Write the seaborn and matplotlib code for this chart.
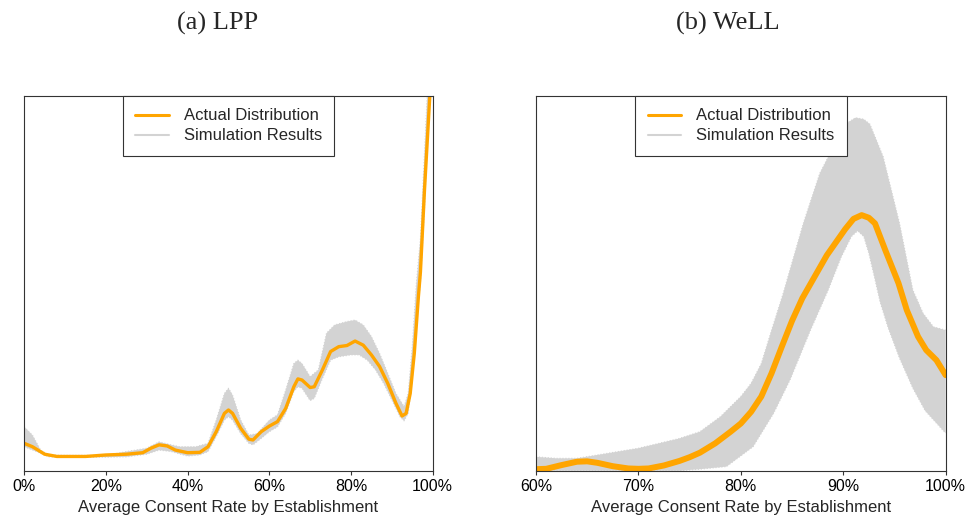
import numpy as np
import pandas as pd
import matplotlib
matplotlib.use("Agg")
import matplotlib.pyplot as plt
from matplotlib.lines import Line2D
import seaborn as sns

# ---------------- data (density in arbitrary units) -------------
# (a) LPP
lpp_x = [0, 2, 5, 8, 15, 20, 25, 29, 31, 33, 35, 37, 40, 43, 45, 47, 49, 50, 51, 53,
         55, 56, 58, 60, 62, 64, 66, 67, 68, 70, 71, 73, 75, 77, 79, 81, 83, 85, 87,
         89, 91, 92.5, 93.5, 94.5, 95.5, 96.5, 97, 98, 99.3, 100]
lpp_y = [.073, .064, .044, .038, .038, .042, .044, .048, .060, .069, .066, .055, .048,
         .049, .064, .104, .153, .162, .153, .113, .084, .082, .104, .119, .131, .166,
         .224, .245, .242, .222, .224, .269, .318, .331, .334, .346, .335, .309, .278,
         .233, .180, .146, .153, .206, .313, .464, .53, .75, 1.0, 1.12]

lpp_up_x = [0, 2, 4, 6, 10, 20, 25, 30, 33, 36, 38, 42, 45, 47, 49, 50, 51, 53, 55, 57,
            60, 62, 64, 66, 67, 68, 70, 72, 74, 76, 79, 81, 83, 85, 87, 89, 91, 93, 94,
            95, 96, 97, 98, 99, 100]
lpp_up = [.117, .095, .055, .042, .041, .041, .051, .060, .077, .069, .064, .064, .073,
          .135, .206, .220, .202, .135, .095, .099, .135, .149, .215, .286, .295, .286,
          .251, .269, .367, .389, .398, .402, .389, .358, .313, .260, .206, .171, .206,
          .331, .50, .62, .85, 1.08, 1.2]

lpp_lo_x = [0, 3, 6, 10, 20, 25, 30, 33, 36, 40, 43, 45, 47, 49, 50, 51, 53, 55, 56, 58,
            60, 62, 64, 66, 67, 68, 70, 71, 73, 75, 77, 80, 82, 84, 86, 88, 90, 92, 93,
            94, 95, 96, 97, 98, 99, 100]
lpp_lo = [.064, .051, .037, .036, .036, .037, .044, .055, .051, .039, .042, .051, .091,
          .135, .144, .135, .099, .073, .069, .086, .104, .117, .153, .211, .224, .220,
          .187, .193, .246, .295, .304, .309, .309, .295, .269, .233, .189, .144, .133,
          .153, .242, .402, .50, .70, .95, 1.05]

# (b) WeLL
well_x = [60, 61, 62.5, 64, 65, 66, 67.5, 69, 70, 71, 72.5, 74, 75, 76, 77.5, 79, 80, 81,
          82, 83, 84, 85, 86, 87, 88.4, 90.2, 91.0, 91.8, 92.5, 93.1, 94.1, 95.4, 96.2,
          97.3, 98.1, 99.1, 100]
well_y = [.004, .005, .015, .024, .025, .021, .012, .006, .005, .006, .014, .026, .036,
          .048, .073, .104, .126, .157, .198, .260, .331, .400, .460, .508, .575, .645,
          .672, .682, .675, .660, .589, .50, .429, .358, .322, .295, .255]

well_up_x = [60, 62, 64, 66, 68, 70, 72, 74, 76, 78, 80, 81, 82, 83, 84.1, 86.1, 87.7,
             89.7, 90.5, 91.2, 92.0, 92.6, 93.9, 95.5, 96.8, 97.8, 98.8, 100]
well_up = [.037, .033, .033, .042, .051, .060, .073, .086, .104, .144, .198, .233, .286,
           .375, .470, .660, .793, .900, .930, .942, .938, .925, .838, .660, .482, .420,
           .384, .375]

well_lo_x = [60, 62, 66, 70, 74, 76, 78.6, 81.2, 83.2, 84.8, 86.8, 88.5, 89.8, 90.8,
             91.4, 92.0, 92.5, 93.1, 93.6, 94.4, 95.5, 96.8, 98.0, 99.0, 100]
well_lo = [0, 0, 0, 0, 0, .004, .011, .064, .153, .242, .375, .48, .57, .625, .640,
           .625, .58, .51, .45, .38, .30, .22, .16, .13, .10]

titles = ["(a) LPP", "(b) WeLL"]
xlabel = "Average Consent Rate by Establishment"
legend_labels = ["Actual Distribution", "Simulation Results"]
lpp_ticks = [0, 20, 40, 60, 80, 100]
well_ticks = [60, 70, 80, 90, 100]

# ---------------- style -------------
sns.set_style("white")
plt.rcParams["font.family"] = ["Liberation Sans", "DejaVu Sans"]

ORANGE = "#FFA500"
GRAY = "#D3D3D3"
EDGE = "#333333"

fig = plt.figure(figsize=(9.71, 5.23), dpi=100)
axL = fig.add_axes([0.0250, 0.1000, 0.4206, 0.7165])
axR = fig.add_axes([0.5520, 0.1000, 0.4219, 0.7165])

panels = [
    (axL, lpp_x, lpp_y, lpp_up_x, lpp_up, lpp_lo_x, lpp_lo, (0, 100), lpp_ticks, 2.4),
    (axR, well_x, well_y, well_up_x, well_up, well_lo_x, well_lo, (60, 100), well_ticks, 4.3),
]

for ax, x, y, ux, uy, lx, ly, xlim, ticks, lw in panels:
    px = np.concatenate([np.asarray(ux, float), np.asarray(lx, float)[::-1]])
    py = np.concatenate([np.asarray(uy, float), np.asarray(ly, float)[::-1]])
    ax.fill(px, py, color=GRAY, lw=0, zorder=1)
    ax.plot(ux, uy, color=GRAY, lw=0.8, ls=":", zorder=1)
    ax.plot(lx, ly, color=GRAY, lw=0.8, ls=":", zorder=1)
    df = pd.DataFrame({"x": x, "y": y})
    sns.lineplot(data=df, x="x", y="y", ax=ax, color=ORANGE, lw=lw, zorder=3,
                 sort=False, estimator=None)
    ax.set_xlim(*xlim)
    ax.set_ylim(0, 1)
    ax.set_xticks(ticks)
    ax.set_xticklabels([f"{t}%" for t in ticks])
    ax.set_yticks([])
    ax.set_ylabel("")
    ax.set_xlabel(xlabel, fontsize=12, labelpad=4)
    ax.tick_params(axis="x", bottom=True, length=3, width=0.8, color=EDGE,
                   labelsize=11.5, pad=3, labelcolor="black")
    for s in ax.spines.values():
        s.set_visible(True)
        s.set_color(EDGE)
        s.set_linewidth(0.8)
        s.set_zorder(4)
    handles = [Line2D([], [], color=ORANGE, lw=2.2), Line2D([], [], color=GRAY, lw=1.5)]
    leg = ax.legend(handles, legend_labels, loc="upper center", borderaxespad=0,
                    fontsize=12, frameon=True, fancybox=False, framealpha=1,
                    edgecolor=EDGE, handlelength=2.0, handletextpad=0.9,
                    labelspacing=0.3, borderpad=0.75)
    leg.get_frame().set_linewidth(0.8)
    leg.set_zorder(5)

fig.text(218 / 971, 1 - 23 / 523, titles[0], ha="center", va="center",
         fontsize=19, family=["Liberation Serif", "DejaVu Serif"])
fig.text(728 / 971, 1 - 23 / 523, titles[1], ha="center", va="center",
         fontsize=19, family=["Liberation Serif", "DejaVu Serif"])

fig.savefig("out.png", dpi=100)
